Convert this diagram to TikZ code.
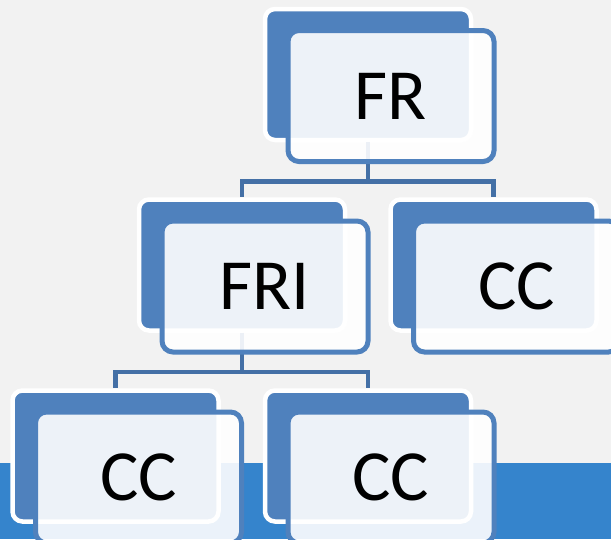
\documentclass[tikz,border=0pt]{standalone}
\usepackage{fontspec}
\setmainfont{Carlito}
\usetikzlibrary{calc}
\definecolor{Fondo}{HTML}{F2F2F2}
\definecolor{BarraAzul}{HTML}{3584CC}
\definecolor{CajaAzul}{HTML}{4F81BD}
\definecolor{LineaAzul}{HTML}{4470A6}
\tikzset{
    caja fondo/.style={
        draw=white, line width=4.5pt, fill=CajaAzul, rounded corners=10pt,
        minimum width=206pt, minimum height=131pt, inner sep=0pt, outer sep=0pt
    },
    caja frente/.style={
        draw=CajaAzul, line width=5pt, fill=white, fill opacity=0.9, text opacity=1,
        rounded corners=11pt, minimum width=206pt, minimum height=131pt,
        inner sep=0pt, outer sep=0pt, font=\fontsize{72pt}{80pt}\selectfont
    },
    conector/.style={
        draw=LineaAzul, line width=4.5pt, shorten <=2.25pt, shorten >=2.25pt
    },
}
\begin{document}
\begin{tikzpicture}[x=1pt, y=-1pt]

\useasboundingbox (0,0) rectangle (611,539);
\clip (0,0) rectangle (611,539);

% Fondo y franja inferior
\fill[Fondo] (0,0) rectangle (611,539);
\fill[BarraAzul] (0,463) rectangle (611,539);

% Cajas de atras
\node[caja fondo] (frB) at (368,74.5) {};
\node[caja fondo] (friB) at (242,265) {};
\node[caja fondo] (ccaB) at (493.5,265) {};
\node[caja fondo] (ccbB) at (115.5,456) {};
\node[caja fondo] (cccB) at (368,456) {};

% Conectores, antes de las cajas de adelante para que se vean a traves
\coordinate (frJ) at ($(frB.south)+(0,41.5)$);
\coordinate (friJ) at ($(friB.south)+(0,41.5)$);
\draw[conector] (frB.south) -- (frJ) -| (friB.north);
\draw[conector] (frJ) -| (ccaB.north);
\draw[conector] (friB.south) -- (friJ) -| (ccbB.north);
\draw[conector] (friJ) -| (cccB.north);

% Cajas de adelante con los textos
\node[caja frente] (frF) at ($(frB)+(23,21.5)$) {FR};
\node[caja frente] (friF) at ($(friB)+(23,21.5)$) {FRI};
\node[caja frente] (ccaF) at ($(ccaB)+(23,21.5)$) {CC};
\node[caja frente] (ccbF) at ($(ccbB)+(23,21.5)$) {CC};
\node[caja frente] (cccF) at ($(cccB)+(23,21.5)$) {CC};
\end{tikzpicture}
\end{document}
